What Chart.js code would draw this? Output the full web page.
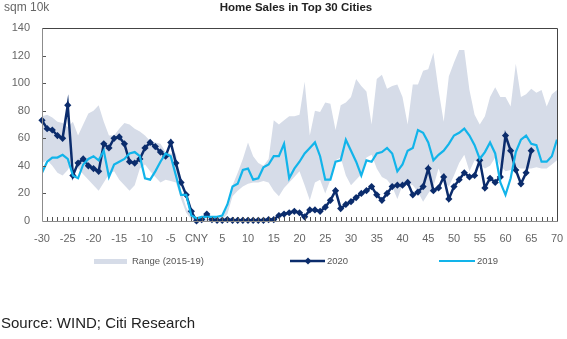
<!DOCTYPE html>
<html>
<head>
<meta charset="utf-8">
<script src="https://cdn.jsdelivr.net/npm/chart.js@4.4.1/dist/chart.umd.min.js"></script>
<style>
  html, body { margin: 0; padding: 0; background: #fff; }
</style>
</head>
<body>
<canvas id="myChart" width="567" height="339"></canvas>
<script>
// days relative to Chinese New Year (0 = CNY)
var days = [];
for (var d = -30; d <= 70; d++) days.push(d);

var yTicks = [20, 40, 60, 80, 100, 120];

// Range (2015-19) band, low and high edges, -30 .. 70
var rangeLow = [
  42, 44, 40, 35, 33, 37, 44, 38, 34, 30, 26, 22, 28, 34, 36, 30, 26, 22, 26, 38,
  41, 36, 32, 28, 30, 29, 28, 16, 6, 1, 0, 0, 0, 0, 0, 1, 5, 18, 22, 25,
  27, 28, 28, 29, 28, 22, 18, 24, 28, 32, 36, 26, 15, 28, 30, 20, 30, 44, 46, 33,
  26, 30, 34, 46, 48, 38, 32, 30, 25, 16, 26, 27, 26, 21, 14, 20, 25, 38, 28, 25,
  33, 42, 48, 36, 44, 41, 38, 40, 46, 40, 36, 37, 39, 38, 38, 38, 39, 38, 38, 41,
  44
];
var rangeHigh = [
  76, 77, 75, 72, 71, 68, 72, 62, 70, 78, 80, 84, 72, 62, 62, 67, 71, 70, 67, 65,
  62, 58, 57, 56, 50, 49, 49, 22, 10, 3, 1, 1, 2, 2, 2, 3, 10, 26, 35, 45,
  57, 47, 42, 40, 45, 73, 70, 73, 76, 76, 77, 101, 62, 80, 79, 86, 85, 66, 84, 86,
  90, 103, 98, 94, 70, 103, 106, 96, 98, 99, 90, 70, 99, 99, 109, 110, 122, 95, 72, 105,
  115, 124, 124, 95, 77, 70, 76, 90, 97, 90, 90, 83, 114, 90, 92, 96, 93, 95, 83, 92,
  95
];

// 2020, -30 .. 65
var sales2020 = [
  73, 67, 66, 62, 60, 84, 33, 42, 45, 40, 38, 36, 56, 53, 60, 61, 56, 43, 42, 45,
  53, 57, 54, 50, 47, 57, 42, 28, 19, 7, 0, 1, 5, 1, 0.5, 0.5, 1, 0.5, 0.5, 0.5,
  0.5, 0.5, 0.5, 0.5, 1, 1, 4, 5, 6, 7, 6, 3, 8, 8, 7, 10, 15, 22, 9, 12,
  14, 17, 20, 22, 25, 19, 15, 20, 25, 26, 26, 28, 19, 21, 25, 38, 22, 24, 32, 16,
  25, 30, 35, 32, 33, 44, 24, 31, 28, 32, 62, 51, 37, 27, 35, 51
];

// 2019, -30 .. 70
var sales2019 = [
  35, 43, 46, 46, 48, 45, 33, 31, 41, 45, 47, 44, 51, 32, 41, 43, 45, 49, 50, 47,
  31, 30, 36, 43, 49, 47, 33, 19, 19, 4, 2, 3, 3, 3, 3, 4, 12, 25, 27, 37,
  38, 30, 31, 39, 41, 47, 47, 56, 31, 38, 43, 49, 53, 57, 47, 30, 30, 43, 44, 59,
  51, 43, 33, 44, 43, 49, 50, 53, 49, 36, 41, 51, 53, 66, 64, 57, 44, 48, 51, 56,
  62, 64, 67, 62, 55, 45, 50, 57, 49, 28, 19, 31, 50, 59, 62, 56, 55, 43, 43, 47,
  59
];

var navy = '#0b2c6c';
var cyan = '#12b4ea';
var band = '#d6dce8';
var font = '"Liberation Sans", Arial, sans-serif';

var decor = {
  id: 'decor',
  afterDatasetsDraw: function (chart) {
    var ctx = chart.ctx, a = chart.chartArea, x = chart.scales.x, y = chart.scales.y;
    ctx.save();
    // small inside ticks
    ctx.strokeStyle = '#555';
    ctx.lineWidth = 1;
    ctx.beginPath();
    days.forEach(function (v) {
      var px = Math.round(x.getPixelForValue(v)) + 0.5;
      ctx.moveTo(px, a.bottom);
      ctx.lineTo(px, a.bottom - 4);
    });
    yTicks.forEach(function (v) {
      var py = Math.round(y.getPixelForValue(v)) + 0.5;
      ctx.moveTo(a.left, py);
      ctx.lineTo(a.left + 4, py);
    });
    ctx.stroke();
    // axes
    var l = Math.round(a.left) + 0.5, r = Math.round(a.right) + 0.5;
    var t = Math.round(a.top) + 0.5, b = Math.round(a.bottom) + 0.5;
    ctx.strokeStyle = '#8c8c8c';
    ctx.beginPath();
    ctx.moveTo(l, t); ctx.lineTo(l, b); ctx.lineTo(r, b);
    ctx.stroke();
    ctx.strokeStyle = '#444';
    ctx.beginPath();
    ctx.moveTo(l, t); ctx.lineTo(r, t); ctx.lineTo(r, b);
    ctx.stroke();
    ctx.restore();
  },
  afterDraw: function (chart) {
    var ctx = chart.ctx;
    ctx.save();
    ctx.textBaseline = 'middle';
    // title and unit
    ctx.fillStyle = '#222';
    ctx.font = 'bold 11.5px ' + font;
    ctx.textAlign = 'center';
    ctx.fillText('Home Sales in Top 30 Cities', 296, 8);
    ctx.fillStyle = '#666';
    ctx.font = '12px ' + font;
    ctx.textAlign = 'left';
    ctx.fillText('sqm 10k', 4, 8);
    // legend
    var ly = 261;
    ctx.font = '9.5px ' + font;
    ctx.fillStyle = band;
    ctx.fillRect(94, ly - 2, 33, 5);
    ctx.fillStyle = '#555';
    ctx.fillText('Range (2015-19)', 132, ly + 0.5);
    ctx.strokeStyle = navy;
    ctx.lineWidth = 2.5;
    ctx.beginPath(); ctx.moveTo(290, ly); ctx.lineTo(325, ly); ctx.stroke();
    ctx.fillStyle = navy;
    ctx.beginPath();
    ctx.moveTo(308, ly - 3.5); ctx.lineTo(311.5, ly); ctx.lineTo(308, ly + 3.5); ctx.lineTo(304.5, ly);
    ctx.closePath(); ctx.fill();
    ctx.fillStyle = '#555';
    ctx.fillText('2020', 327, ly + 0.5);
    ctx.strokeStyle = cyan;
    ctx.lineWidth = 2;
    ctx.beginPath(); ctx.moveTo(439, ly); ctx.lineTo(475, ly); ctx.stroke();
    ctx.fillText('2019', 477, ly + 0.5);
    // source
    ctx.fillStyle = '#222';
    ctx.font = '15px ' + font;
    ctx.fillText('Source: WIND; Citi Research', 1, 324);
    ctx.restore();
  }
};

var ctx = document.getElementById('myChart').getContext('2d');
var myChart = new Chart(ctx, {
  type: 'line',
  data: {
    labels: days,
    datasets: [{
      label: 'Range low',
      data: rangeLow,
      borderColor: 'rgba(0,0,0,0)',
      borderWidth: 1,
      pointRadius: 0,
      fill: false,
      order: 3
    }, {
      label: 'Range (2015-19)',
      data: rangeHigh,
      borderColor: 'rgba(0,0,0,0)',
      backgroundColor: band,
      borderWidth: 1,
      pointRadius: 0,
      fill: '-1',
      order: 2
    }, {
      label: '2020',
      data: sales2020,
      borderColor: navy,
      backgroundColor: navy,
      borderWidth: 2.5,
      pointStyle: 'rectRot',
      pointRadius: 3.6,
      pointBorderWidth: 0,
      clip: false,
      order: 1
    }, {
      label: '2019',
      data: sales2019,
      borderColor: cyan,
      borderWidth: 2.2,
      pointRadius: 0,
      order: 0
    }]
  },
  options: {
    responsive: false,
    animation: false,
    devicePixelRatio: 1,
    layout: {
      padding: { top: 28, right: 10, bottom: 88, left: 0 }
    },
    plugins: {
      legend: { display: false },
      tooltip: { enabled: false }
    },
    elements: { line: { tension: 0 } },
    scales: {
      x: {
        type: 'linear',
        min: -30,
        max: 70,
        afterFit: function (s) { s.height = 30; s.paddingLeft = 0; s.paddingRight = 0; },
        grid: { display: false, drawTicks: false },
        border: { display: false },
        ticks: {
          stepSize: 5,
          padding: 11,
          maxRotation: 0,
          minRotation: 0,
          autoSkip: false,
          color: '#666',
          font: { family: font, size: 11 },
          callback: function (v) { return v === 0 ? 'CNY' : v; }
        }
      },
      y: {
        min: 0,
        max: 140,
        afterFit: function (s) { s.width = 42; s.paddingTop = 0; s.paddingBottom = 0; },
        grid: { display: false, drawTicks: false },
        border: { display: false },
        ticks: {
          stepSize: 20,
          padding: 12,
          color: '#666',
          font: { family: font, size: 11 }
        }
      }
    }
  },
  plugins: [decor]
});
</script>
</body>
</html>
